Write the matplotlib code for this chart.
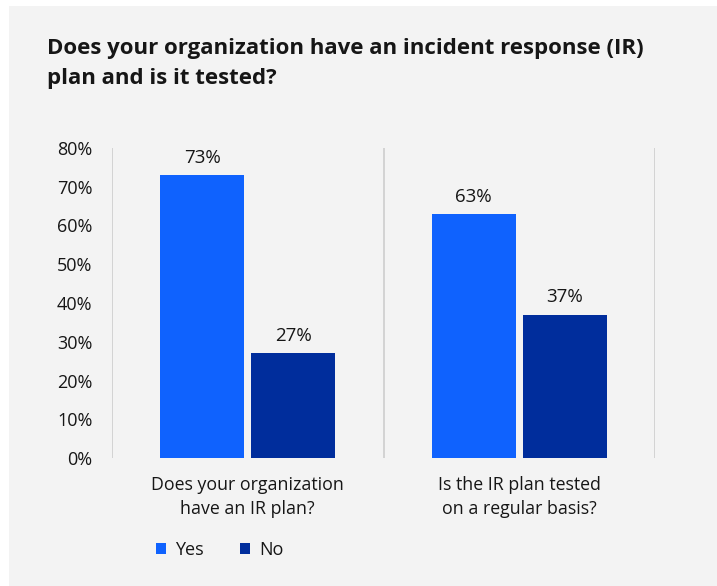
import matplotlib
matplotlib.use("Agg")
import matplotlib.pyplot as plt
from matplotlib.patches import Rectangle
import numpy as np

# data
categories = ["Does your organization\nhave an IR plan?", "Is the IR plan tested\non a regular basis?"]
yes_values = [73, 63]
no_values = [27, 37]
series_names = ["Yes", "No"]
y_ticks = [0, 10, 20, 30, 40, 50, 60, 70, 80]

title = "Does your organization have an incident response (IR)\nplan and is it tested?"

plt.rcParams["font.family"] = ["Open Sans", "DejaVu Sans"]
text_color = "#161616"
yes_color = "#0f62fe"
no_color = "#002d9c"
panel_color = "#f3f3f3"
grid_color = "#d0d0d0"

fig = plt.figure(figsize=(7.17, 5.86), dpi=100)
fig.patch.set_facecolor("white")
# grey card behind the chart
fig.patches.append(Rectangle((9 / 717, 0), 1, 1 - 6 / 586, transform=fig.transFigure,
                             facecolor=panel_color, edgecolor="none", zorder=-10))

ax = fig.add_axes([112 / 717, 1 - 458 / 586, (655 - 112) / 717, (458 - 148) / 586])
ax.patch.set_alpha(0)

x = np.arange(len(categories))
width = 0.31
offset = 0.168
bars_yes = ax.bar(x - offset, yes_values, width, color=yes_color, label=series_names[0])
bars_no = ax.bar(x + offset, no_values, width, color=no_color, label=series_names[1])

for bars in (bars_yes, bars_no):
    ax.bar_label(bars, labels=[f"{v}%" for v in bars.datavalues], padding=6,
                 fontsize=13.5, color=text_color)

ax.set_xlim(-0.5, len(categories) - 0.5)
ax.set_ylim(0, 80)
ax.set_yticks(y_ticks)
ax.set_yticklabels([f"{t}%" for t in y_ticks])
ax.set_xticks(x)
ax.set_xticklabels(categories, linespacing=1.45)
ax.tick_params(axis="y", length=0, pad=14, labelsize=13, labelcolor=text_color)
ax.tick_params(axis="x", length=0, pad=13, labelsize=12.8, labelcolor=text_color)

for s in ax.spines.values():
    s.set_visible(False)
# vertical separators between categories
for xv in np.arange(-0.5, len(categories), 1.0):
    ax.axvline(xv, color=grid_color, linewidth=1.3, zorder=0)

fig.text(47 / 717, 1 - 38 / 586, title, fontsize=16, fontweight="bold", color=text_color,
         va="top", ha="left", linespacing=1.55)

leg = fig.legend(handles=[bars_yes, bars_no], loc="center left",
                 bbox_to_anchor=(140 / 717, 1 - 550 / 586), ncol=2, frameon=False,
                 fontsize=13, handlelength=0.55, handleheight=0.55,
                 handletextpad=0.5, columnspacing=2.0, labelcolor=text_color)

fig.savefig("out.png", dpi=100)
